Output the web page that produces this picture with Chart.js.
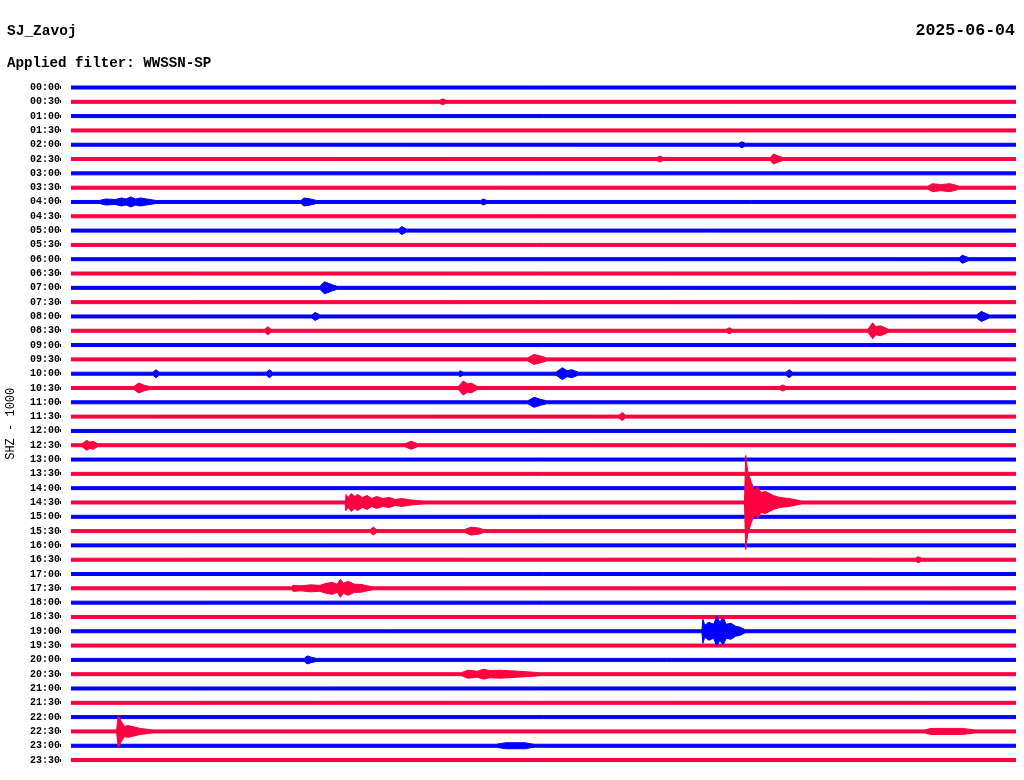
<!DOCTYPE html>
<html>
<head>
<meta charset="utf-8">
<title>SJ_Zavoj helicorder 2025-06-04</title>
<script src="https://cdn.jsdelivr.net/npm/chart.js@4.4.1/dist/chart.umd.min.js"></script>
<style>
  html, body { margin: 0; padding: 0; background: #fff; }
  canvas { display: block; }
</style>
</head>
<body>
<canvas id="heli" width="1024" height="780"></canvas>
<script>
var STATION = 'SJ_Zavoj';
var DAY = '2025-06-04';
var FILTER_TEXT = 'Applied filter: WWSSN-SP';
var CHANNEL_TEXT = 'SHZ - 1000';

// one trace per half hour
var TIME_LABELS = [
  '00:00', '00:30', '01:00', '01:30', '02:00', '02:30', '03:00', '03:30',
  '04:00', '04:30', '05:00', '05:30', '06:00', '06:30', '07:00', '07:30',
  '08:00', '08:30', '09:00', '09:30', '10:00', '10:30', '11:00', '11:30',
  '12:00', '12:30', '13:00', '13:30', '14:00', '14:30', '15:00', '15:30',
  '16:00', '16:30', '17:00', '17:30', '18:00', '18:30', '19:00', '19:30',
  '20:00', '20:30', '21:00', '21:30', '22:00', '22:30', '23:00', '23:30'
];

var ROW_STEP = 14.3;   // amplitude units between two traces
var NOISE = 1.5;       // background half-amplitude of every trace

// envelope of each trace: [minute within the half hour, half-amplitude]
var ENVELOPES = [
  [],
  [[11.7, 1.5], [11.8, 3], [11.9, 1.5]],
  [],
  [],
  [[21.2, 1.5], [21.3, 3], [21.4, 1.5]],
  [[18.6, 1.5], [18.7, 3], [18.8, 1.5], [22.2, 1.5], [22.3, 5], [22.45, 3], [22.6, 1.5]],
  [],
  [[27.2, 1.5], [27.35, 4], [27.6, 3], [27.9, 4], [28.2, 1.5]],
  [[0.9, 1.5], [1.1, 3], [1.4, 2.5], [1.6, 4], [1.75, 3], [1.9, 5], [2.05, 3], [2.2, 4], [2.7, 1.5], [7.3, 1.5], [7.4, 4], [7.6, 3], [7.8, 1.5], [13.0, 1.5], [13.1, 3], [13.2, 1.5]],
  [],
  [[10.4, 1.5], [10.5, 4], [10.65, 1.5]],
  [],
  [[28.2, 1.5], [28.3, 4], [28.5, 1.5]],
  [],
  [[7.9, 1.5], [8.05, 6], [8.3, 3], [8.45, 1.5]],
  [],
  [[7.65, 1.5], [7.75, 4], [7.9, 1.5], [28.75, 1.5], [28.9, 5], [29.15, 1.5]],
  [[6.15, 1.5], [6.25, 4], [6.35, 1.5], [20.8, 1.5], [20.9, 3], [21.0, 1.5], [25.3, 1.5], [25.45, 8], [25.55, 4], [25.7, 5], [25.95, 1.5]],
  [],
  [[14.5, 1.5], [14.7, 5], [14.95, 3], [15.1, 1.5]],
  [[2.6, 1.5], [2.7, 4], [2.8, 1.5], [6.2, 1.5], [6.3, 4], [6.4, 1.5], [12.3, 1.5], [12.35, 3], [12.45, 1.5], [15.4, 1.5], [15.6, 6], [15.75, 3], [15.9, 4], [16.1, 1.5], [22.7, 1.5], [22.8, 4], [22.9, 1.5]],
  [[2.0, 1.5], [2.15, 5], [2.35, 2.5], [2.5, 1.5], [12.3, 1.5], [12.45, 7], [12.6, 4], [12.7, 5], [12.9, 1.5], [22.5, 1.5], [22.6, 3], [22.7, 1.5]],
  [[14.5, 1.5], [14.7, 5], [14.9, 3], [15.1, 1.5]],
  [[17.4, 1.5], [17.5, 4], [17.6, 1.5]],
  [],
  [[0.35, 1.5], [0.5, 5], [0.6, 3], [0.7, 4], [0.85, 1.5], [10.6, 1.5], [10.8, 4], [11.0, 1.5]],
  [],
  [],
  [],
  [[8.7, 1.5], [8.73, 8], [8.8, 5], [8.9, 9], [9.0, 6], [9.1, 8], [9.25, 5], [9.4, 7], [9.55, 4], [9.7, 6], [9.9, 4], [10.1, 5], [10.3, 3], [10.5, 4], [10.8, 2.5], [11.2, 1.5],
   [21.38, 1.5], [21.42, 47], [21.48, 32], [21.6, 20], [21.7, 12], [21.8, 16], [21.9, 10], [22.05, 11], [22.3, 7], [22.5, 5], [22.8, 4], [23.2, 1.5]],
  [],
  [[9.5, 1.5], [9.6, 4], [9.7, 1.5], [12.5, 1.5], [12.7, 4], [12.95, 3], [13.1, 1.5]],
  [],
  [[26.8, 1.5], [26.9, 3], [27.0, 1.5]],
  [],
  [[7.0, 1.5], [7.05, 3], [7.3, 2.5], [7.6, 3.5], [7.9, 3], [8.1, 5], [8.3, 6], [8.45, 4], [8.55, 9], [8.65, 5], [8.8, 7], [9.0, 4], [9.2, 4], [9.4, 2.5], [9.6, 1.5]],
  [],
  [],
  [[20.03, 1.5], [20.06, 12], [20.12, 6], [20.25, 9], [20.4, 7], [20.5, 15], [20.6, 9], [20.7, 14], [20.8, 7], [20.95, 8], [21.1, 5], [21.25, 4], [21.4, 1.5]],
  [],
  [[7.4, 1.5], [7.5, 4], [7.65, 2.5], [7.8, 1.5]],
  [[12.4, 1.5], [12.6, 4], [12.9, 3], [13.1, 5], [13.3, 3.5], [13.6, 4], [14.2, 3], [14.9, 1.5]],
  [],
  [],
  [],
  [[1.45, 1.5], [1.5, 16], [1.6, 10], [1.7, 5], [1.8, 6], [2.2, 3], [2.6, 1.5], [27.1, 1.5], [27.3, 3], [28.3, 3], [28.7, 1.5]],
  [[13.5, 1.5], [13.8, 3], [14.4, 3], [14.7, 1.5]],
  []
];

var BLUE = '#0000ff';
var RED = '#ff0040';
var FONT = "'Liberation Mono', 'DejaVu Sans Mono', monospace";

var datasets = [];
TIME_LABELS.forEach(function (label, i) {
  var base = -i * ROW_STEP;
  var pts = [[0, NOISE]].concat(ENVELOPES[i], [[30, NOISE]]);
  var peak = Math.max.apply(null, pts.map(function (p) { return p[1]; }));
  var color = i % 2 === 0 ? BLUE : RED;
  datasets.push({
    label: label + ' +',
    data: pts.map(function (p) { return { x: p[0], y: base + p[1] }; }),
    borderColor: color,
    borderWidth: 1,
    pointRadius: 0,
    fill: false,
    order: -peak
  });
  datasets.push({
    label: label + ' -',
    data: pts.map(function (p) { return { x: p[0], y: base - p[1] }; }),
    borderColor: color,
    backgroundColor: color,
    borderWidth: 1,
    pointRadius: 0,
    fill: '-1',
    order: -peak
  });
});

var header = {
  id: 'header',
  afterDraw: function (chart) {
    var c = chart.ctx;
    c.save();
    c.fillStyle = '#000';
    c.textBaseline = 'alphabetic';
    c.textAlign = 'left';
    c.font = 'bold 14.5px ' + FONT;
    c.fillText(STATION, 7, 35);
    c.font = 'bold 14.2px ' + FONT;
    c.fillText(FILTER_TEXT, 7, 67);
    c.textAlign = 'right';
    c.font = 'bold 16.6px ' + FONT;
    c.fillText(DAY, 1015, 35);
    c.restore();
  }
};

new Chart(document.getElementById('heli').getContext('2d'), {
  type: 'line',
  data: { datasets: datasets },
  options: {
    responsive: false,
    animation: false,
    events: [],
    layout: { padding: { top: 80.35, bottom: 12.8, left: 0, right: 8 } },
    plugins: {
      legend: { display: false },
      tooltip: { enabled: false }
    },
    elements: { line: { tension: 0 } },
    scales: {
      x: {
        type: 'linear',
        display: false,
        min: -0.3175,
        max: 30
      },
      y: {
        type: 'linear',
        min: -47.5 * ROW_STEP,
        max: 0.5 * ROW_STEP,
        afterFit: function (scale) { scale.width = 61; },
        afterBuildTicks: function (scale) {
          scale.ticks = TIME_LABELS.map(function (l, i) { return { value: -i * ROW_STEP }; });
        },
        ticks: {
          autoSkip: false,
          padding: 0,
          color: '#000',
          font: { family: FONT, size: 10, weight: 'bold' },
          callback: function (value, index) { return TIME_LABELS[index]; }
        },
        grid: {
          drawOnChartArea: false,
          drawTicks: true,
          tickLength: 1,
          tickWidth: 3,
          tickColor: '#000'
        },
        border: { display: false },
        title: {
          display: true,
          text: CHANNEL_TEXT,
          color: '#000',
          font: { family: FONT, size: 12 }
        }
      }
    }
  },
  plugins: [header]
});
</script>
</body>
</html>
